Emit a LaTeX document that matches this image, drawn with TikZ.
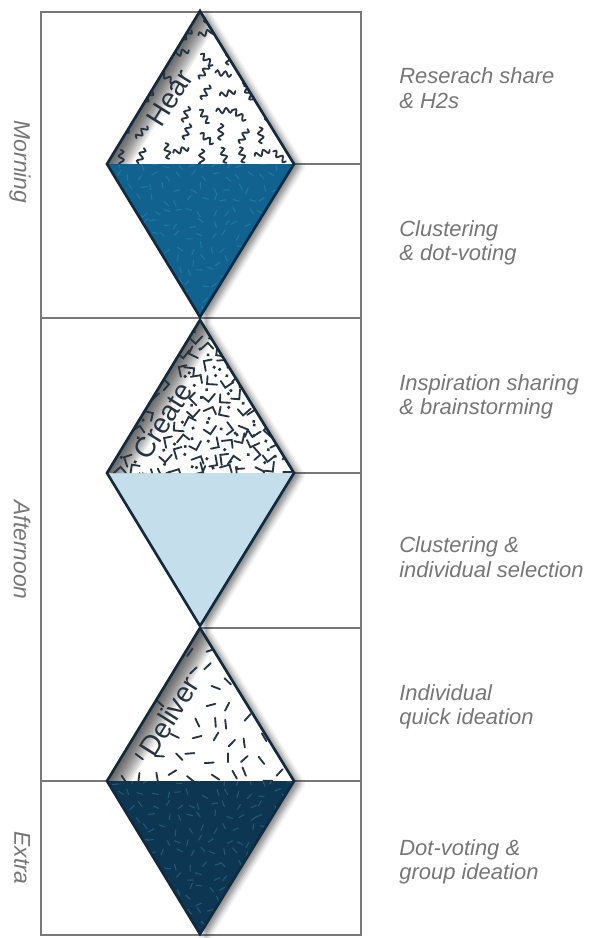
\documentclass[tikz,border=0pt]{standalone}
\usepackage{fontspec}
\setmainfont{Liberation Sans}
\newfontfamily\handfont{Liberation Sans}
\usetikzlibrary{backgrounds}
\usetikzlibrary{shadows,shadows.blur}
\pgfdeclarelayer{edgelayer}
\pgfdeclarelayer{nodelayer}
\pgfsetlayers{background,edgelayer,nodelayer,main}
\definecolor{kiteline}{RGB}{20,42,60}
\definecolor{inkgrey}{RGB}{38,52,64}
\definecolor{hearblue}{RGB}{17,98,142}
\definecolor{createblue}{RGB}{197,222,235}
\definecolor{delivernavy}{RGB}{12,54,82}
\definecolor{railgrey}{RGB}{120,120,120}
\definecolor{notegrey}{RGB}{118,118,118}
\tikzstyle{none}=[inner sep=0mm]
\tikzstyle{rail}=[draw=railgrey, line width=0.65pt]
\tikzstyle{kiteshadow}=[fill=white, blur shadow={shadow xshift=3.5pt, shadow yshift=-1.5pt, shadow blur radius=3pt, shadow opacity=45}]
\tikzstyle{outline}=[draw=kiteline, line width=1.5pt, line join=miter]
\tikzstyle{doodle}=[draw=inkgrey, line width=1.05pt, line cap=round]
\tikzstyle{fleck}=[line width=0.6pt, line cap=round, opacity=0.45]
\tikzstyle{phase}=[inner sep=0pt, text=inkgrey, rotate=58, font=\fontsize{16}{16}\selectfont]
\tikzstyle{note}=[anchor=west, align=left, inner sep=0pt, text=notegrey, font=\handfont\itshape\fontsize{12.5}{14}\selectfont]
\tikzstyle{period}=[inner sep=0pt, text=notegrey, rotate=-90, font=\handfont\itshape\fontsize{13}{13}\selectfont]
% scattered marks in the upper half, kept off the label
\newcommand{\doodlefield}[7]{%
	\foreach \gx in {#6}
		\foreach \gy in {#7} {
			\pgfmathsetmacro{\jx}{\gx+5*rand}
			\pgfmathsetmacro{\jy}{#1+\gy+5*rand}
			\pgfmathsetmacro{\ja}{180*rand}
			\pgfmathtruncatemacro{\keep}{or(abs((\jx-#2)*0.53-(\jy-#3)*0.848)>#4,abs((\jx-#2)*0.848+(\jy-#3)*0.53)>13)}
			\ifnum\keep=1
				\draw [doodle, shift={(\jx,\jy)}, rotate=\ja] #5;
			\fi
		}%
}
% faint texture in the lower half
\newcommand{\fleckfield}[2]{%
	\foreach \gx in {106,118,...,298}
		\foreach \gy in {0,12,...,156} {
			\pgfmathsetmacro{\jx}{\gx+4*rand}
			\pgfmathsetmacro{\jy}{#1+\gy+4*rand}
			\pgfmathsetmacro{\ja}{180*rand}
			\draw [fleck, draw=#2, shift={(\jx,\jy)}, rotate=\ja] (-3,0) -- (3,0);
		}%
}

\begin{document}
\begin{tikzpicture}[x=0.02cm, y=-0.02cm]
	\useasboundingbox (0,0) rectangle (589,938);
	\pgfmathsetseed{42}
	\begin{pgfonlayer}{nodelayer}
		\node [style=none] (nw) at (41, 12) {};
		\node [style=none] (ne) at (361, 12) {};
		\node [style=none] (sw) at (41, 935) {};
		\node [style=none] (se) at (361, 935) {};
		\node [style=none] (e1) at (361, 164) {};
		\node [style=none] (w2) at (41, 318) {};
		\node [style=none] (e2) at (361, 318) {};
		\node [style=none] (e3) at (361, 473) {};
		\node [style=none] (e4) at (361, 628) {};
		\node [style=none] (w5) at (41, 781) {};
		\node [style=none] (e5) at (361, 781) {};
		\node [style=none] (ht) at (200, 11) {};
		\node [style=none] (hl) at (107, 164) {};
		\node [style=none] (hr) at (294, 164) {};
		\node [style=none] (hb) at (200, 317) {};
		\node [style=none] (ct) at (200, 320) {};
		\node [style=none] (cl) at (107, 473) {};
		\node [style=none] (cr) at (294, 473) {};
		\node [style=none] (cb) at (200, 626) {};
		\node [style=none] (dt) at (200, 628) {};
		\node [style=none] (dl) at (107, 781) {};
		\node [style=none] (dr) at (294, 781) {};
		\node [style=none] (db) at (200, 934) {};
	\end{pgfonlayer}

	% frame
	\draw [style=rail] (nw.center) -- (ne.center) -- (se.center) -- (sw.center) -- cycle;
	\draw [style=rail] (hr.center) -- (e1.center);
	\draw [style=rail] (w2.center) -- (e2.center);
	\draw [style=rail] (cr.center) -- (e3.center);
	\draw [style=rail] (dt.center) -- (e4.center);
	\draw [style=rail] (w5.center) -- (e5.center);

	% Hear
	\path [style=kiteshadow] (ht.center) -- (hr.center) -- (hb.center) -- (hl.center) -- cycle;
	\fill [hearblue] (hl.center) -- (hr.center) -- (hb.center) -- cycle;
	\begin{scope}
		\clip (hl.center) -- (hr.center) -- (hb.center) -- cycle;
		\fleckfield{164}{cyan!55!hearblue}
	\end{scope}
	\begin{scope}
		\clip (ht.center) -- (hr.center) -- (hl.center) -- cycle;
		\foreach \w in {2,4,...,24}
			\draw [black, opacity=0.07, line width=\w pt] (ht.center) -- (hl.center);
		\doodlefield{11}{170}{98}{34}{(-8,0) sin (-6,-2.5) cos (-4,0) sin (-2,2.5) cos (0,0) sin (2,-2.5) cos (4,0) sin (6,2.5) cos (8,0)}{104,124,...,304}{4,24,...,164}
	\end{scope}
	\draw [style=outline] (ht.center) -- (hr.center) -- (hb.center) -- (hl.center) -- cycle;
	\node [style=phase] (hear) at (170, 98) {Hear};

	% Create
	\path [style=kiteshadow] (ct.center) -- (cr.center) -- (cb.center) -- (cl.center) -- cycle;
	\fill [createblue] (cl.center) -- (cr.center) -- (cb.center) -- cycle;
	\begin{scope}
		\clip (ct.center) -- (cr.center) -- (cl.center) -- cycle;
		\foreach \w in {2,4,...,24}
			\draw [black, opacity=0.07, line width=\w pt] (ct.center) -- (cl.center);
		\doodlefield{320}{163}{421}{48}{(-4,6) -- (-4,-4) -- (4,-4) (5,4) circle (0.5)}{104,119,...,299}{2,17,...,167}
	\end{scope}
	\draw [style=outline] (ct.center) -- (cr.center) -- (cb.center) -- (cl.center) -- cycle;
	\node [style=phase] (create) at (163, 421) {Create};

	% Deliver
	\path [style=kiteshadow] (dt.center) -- (dr.center) -- (db.center) -- (dl.center) -- cycle;
	\fill [delivernavy] (dl.center) -- (dr.center) -- (db.center) -- cycle;
	\begin{scope}
		\clip (dl.center) -- (dr.center) -- (db.center) -- cycle;
		\fleckfield{781}{cyan!45!delivernavy}
	\end{scope}
	\begin{scope}
		\clip (dt.center) -- (dr.center) -- (dl.center) -- cycle;
		\foreach \w in {2,4,...,24}
			\draw [black, opacity=0.07, line width=\w pt] (dt.center) -- (dl.center);
		\doodlefield{628}{169}{716}{44}{(-4.5,0) -- (4.5,0)}{104,122,...,302}{4,22,...,166}
	\end{scope}
	\draw [style=outline] (dt.center) -- (dr.center) -- (db.center) -- (dl.center) -- cycle;
	\node [style=phase] (deliver) at (169, 716) {Deliver};

	% sessions
	\node [style=period] (morning) at (20, 162) {Morning};
	\node [style=period] (afternoon) at (22, 550) {Afternoon};
	\node [style=period] (extra) at (22, 858) {Extra};

	% activities
	\node [style=note] (n1) at (399, 88) {Reserach share\\\& H2s};
	\node [style=note] (n2) at (399, 243) {Clustering\\\& dot-voting};
	\node [style=note] (n3) at (399, 397) {Inspiration sharing\\\& brainstorming};
	\node [style=note] (n4) at (399, 557) {Clustering \&\\individual selection};
	\node [style=note] (n5) at (399, 707) {Individual\\quick ideation};
	\node [style=note] (n6) at (399, 862) {Dot-voting \&\\group ideation};
\end{tikzpicture}
\end{document}
